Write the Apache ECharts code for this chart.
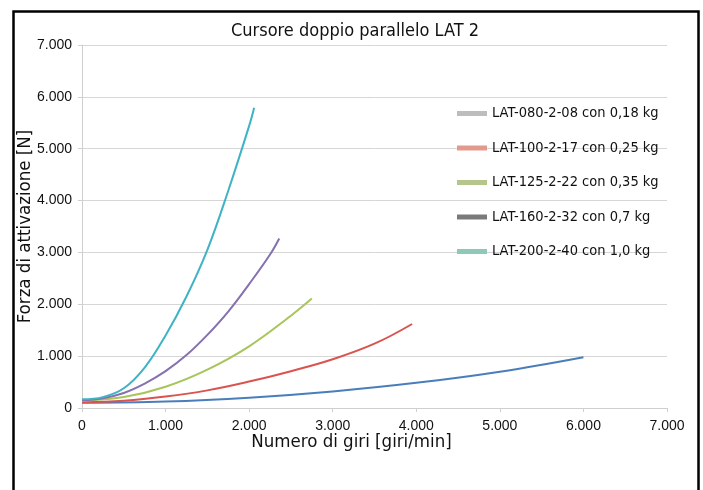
<!DOCTYPE html>
<html>
<head>
<meta charset="utf-8">
<script src="https://cdn.jsdelivr.net/npm/echarts@6/dist/echarts.min.js"></script>
<style>
html,body{margin:0;padding:0;background:#fff;}
#chart{width:703px;height:490px;}
</style>
</head>
<body>
<div id="chart"></div>
<script>
// ---- data ----
const titleText = 'Cursore doppio parallelo LAT 2';
const xAxisName = 'Numero di giri [giri/min]';
const yAxisName = 'Forza di attivazione [N]';
const seriesNames = [
  'LAT-080-2-08 con 0,18 kg',
  'LAT-100-2-17 con 0,25 kg',
  'LAT-125-2-22 con 0,35 kg',
  'LAT-160-2-32 con 0,7 kg',
  'LAT-200-2-40 con 1,0 kg'
];
// speed [giri/min] and force [N] for each series
const lat080X = [0, 1000, 2000, 3000, 4000, 5000, 6000];
const lat080Y = [100, 125, 200, 320, 485, 700, 980];
const lat100X = [0, 500, 1000, 1500, 2000, 2500, 3000, 3500, 3950];
const lat100Y = [110, 140, 220, 340, 510, 710, 940, 1240, 1620];
const lat125X = [0, 500, 1000, 1500, 2000, 2500, 2750];
const lat125Y = [140, 210, 410, 740, 1190, 1780, 2110];
const lat160X = [0, 250, 500, 750, 1000, 1250, 1500, 1750, 2000, 2250, 2360];
const lat160Y = [150, 190, 290, 470, 710, 1020, 1410, 1860, 2390, 2960, 3270];
const lat200X = [0, 250, 500, 750, 1000, 1250, 1500, 1750, 2000, 2060];
const lat200Y = [170, 210, 380, 780, 1400, 2150, 3050, 4190, 5440, 5790];
const xTicks = [0, 1000, 2000, 3000, 4000, 5000, 6000, 7000];
const yTicks = [0, 1000, 2000, 3000, 4000, 5000, 6000, 7000];

const lineColors = ['#4a7ebb', '#d9534f', '#a8c55a', '#8571b0', '#3fb3c4'];
const legendColors = ['#bdbdbd', '#e39a8c', '#b6c58c', '#7a7a7a', '#8cc9b8'];

const xs = [lat080X, lat100X, lat125X, lat160X, lat200X];
const ys = [lat080Y, lat100Y, lat125Y, lat160Y, lat200Y];

function fmt(v){ return v === 0 ? '0' : (v/1000).toFixed(3); }

const narrow = "'Liberation Sans Narrow', 'DejaVu Sans Condensed', sans-serif";
const reg = "'Liberation Sans', Arial, sans-serif";

const chart = echarts.init(document.getElementById('chart'), null, {renderer:'canvas'});
chart.setOption({
  backgroundColor: '#fff',
  animation: false,
  title: {
    text: titleText, left: 226, top: 17,
    textStyle: {fontFamily: narrow, fontSize: 18, fontWeight: 'normal', color: '#111'}
  },
  grid: {left: 82, right: 36, top: 45, bottom: 82},
  legend: {
    orient: 'vertical', left: 452, top: 101,
    icon: 'rect', itemWidth: 30, itemHeight: 5, itemGap: 19.5,
    textStyle: {fontFamily: narrow, fontSize: 14.5, lineHeight: 15, color: '#111'},
    data: seriesNames.map((n, i) => ({name: n, itemStyle: {color: legendColors[i]}}))
  },
  xAxis: {
    type: 'value', min: 0, max: 7000, interval: 1000,
    name: xAxisName, nameLocation: 'middle', nameGap: 25, nameMoveOverlap: false,
    nameTextStyle: {fontFamily: narrow, fontSize: 18.5, color: '#111', padding: [0, 46, 0, 0]},
    axisLine: {show: true, lineStyle: {color: '#cfcfcf', width: 1}},
    axisTick: {show: true, length: 4, lineStyle: {color: '#cfcfcf'}},
    splitLine: {show: false},
    axisLabel: {fontFamily: reg, fontSize: 14, color: '#111', margin: 11, formatter: v => xTicks.includes(v) ? fmt(v) : ''}
  },
  yAxis: {
    type: 'value', min: 0, max: 7000, interval: 1000,
    name: yAxisName, nameLocation: 'middle', nameGap: 47, nameRotate: 90, nameMoveOverlap: false,
    nameTextStyle: {fontFamily: narrow, fontSize: 18.5, color: '#111'},
    axisLine: {show: true, lineStyle: {color: '#cfcfcf', width: 1}},
    axisTick: {show: true, length: 4, lineStyle: {color: '#cfcfcf'}},
    splitLine: {show: true, lineStyle: {color: '#d6d6d6', width: 1}},
    axisLabel: {fontFamily: reg, fontSize: 14, color: '#111', margin: 10, formatter: v => yTicks.includes(v) ? fmt(v) : ''}
  },
  graphic: [{
    type: 'rect', left: 11, top: 9, z: 100, silent: true,
    shape: {width: 685, height: 490},
    style: {fill: 'none', stroke: '#000', lineWidth: 2.5}
  }],
  series: seriesNames.map((n, i) => ({
    name: n, type: 'line', smooth: 0.4, showSymbol: false, symbol: 'none',
    color: lineColors[i],
    lineStyle: {width: 2, color: lineColors[i]},
    data: xs[i].map((x, j) => [x, ys[i][j]])
  }))
});
</script>
</body>
</html>
